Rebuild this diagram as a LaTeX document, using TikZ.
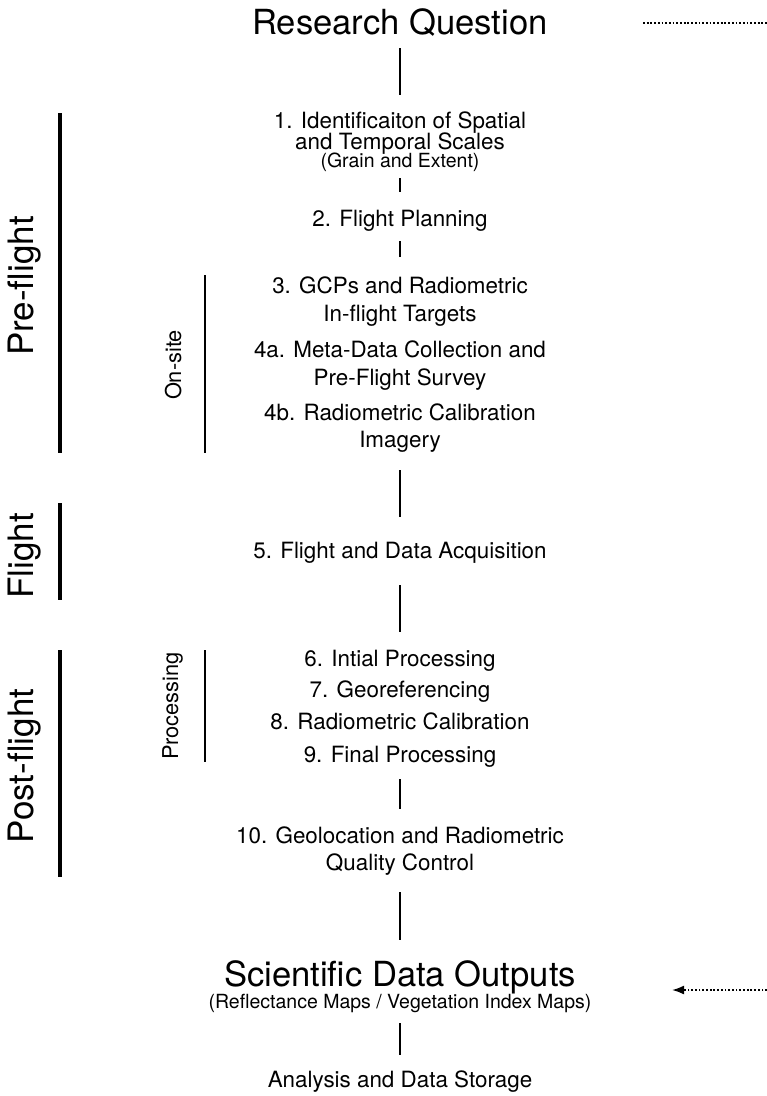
\documentclass[tikz,border=0pt]{standalone}
\usepackage{fontspec}
\setmainfont{TeX Gyre Heros}
\usetikzlibrary{arrows.meta}
\begin{document}
\begin{tikzpicture}[x=1pt,y=-1pt,
  title/.style={anchor=base,inner sep=0pt,font=\fontsize{34.6}{36}\selectfont},
  item/.style={anchor=base,inner sep=0pt,font=\fontsize{22.4}{24}\selectfont},
  note/.style={anchor=base,inner sep=0pt,font=\fontsize{19.5}{21}\selectfont},
  phase/.style={anchor=base,inner sep=0pt,rotate=90,font=\fontsize{35}{37}\selectfont},
  subphase/.style={anchor=base,inner sep=0pt,rotate=90,font=\fontsize{21.8}{24}\selectfont},
  link/.style={line width=2pt},
  phasebar/.style={line width=3.4pt},
  subbar/.style={line width=2.2pt},
  dots/.style={line width=1.8pt,dash pattern=on 1.8pt off 1.9pt}]
\useasboundingbox (0,0) rectangle (767,1096);

% main sequence
\node[title] (rq) at (400,34) {Research Question};
\node[item] (s1a) at (400,128) {1. Identificaiton of Spatial};
\node[item] (s1b) at (400,149) {and Temporal Scales};
\node[note] (s1c) at (400,167) {(Grain and Extent)};
\node[item] (s2) at (400,226) {2. Flight Planning};
\node[item] (s3a) at (400,293) {3. GCPs and Radiometric};
\node[item] (s3b) at (400,321) {In-flight Targets};
\node[item] (s4a) at (400,357) {4a. Meta-Data Collection and};
\node[item] (s4b) at (400,385) {Pre-Flight Survey};
\node[item] (s4c) at (400,420) {4b. Radiometric Calibration};
\node[item] (s4d) at (400,447) {Imagery};
\node[item] (s5) at (400,558) {5. Flight and Data Acquisition};
\node[item] (s6) at (400,666) {6. Intial Processing};
\node[item] (s7) at (400,697) {7. Georeferencing};
\node[item] (s8) at (400,729) {8. Radiometric Calibration};
\node[item] (s9) at (400,762) {9. Final Processing};
\node[item] (s10a) at (400,843) {10. Geolocation and Radiometric};
\node[item] (s10b) at (400,870) {Quality Control};
\node[title] (sdo) at (400,986) {Scientific Data Outputs};
\node[note] (sdob) at (400,1008) {(Reflectance Maps / Vegetation Index Maps)};
\node[item] (ads) at (400,1087) {Analysis and Data Storage};

% connector end points
\coordinate (l1t) at (400,48);   \coordinate (l1b) at (400,95);
\coordinate (l2t) at (400,178);  \coordinate (l2b) at (400,192);
\coordinate (l3t) at (400,241);  \coordinate (l3b) at (400,257);
\coordinate (l4t) at (400,470);  \coordinate (l4b) at (400,517);
\coordinate (l5t) at (400,585);  \coordinate (l5b) at (400,632);
\coordinate (l6t) at (400,779);  \coordinate (l6b) at (400,809);
\coordinate (l7t) at (400,892);  \coordinate (l7b) at (400,940);
\coordinate (l8t) at (400,1023); \coordinate (l8b) at (400,1055);
\foreach \i in {1,...,8} \draw[link] (l\i t) -- (l\i b);

% side feedback lines
\coordinate (fbs) at (643,23);  \coordinate (fbe) at (767,23);
\draw[dots] (fbs) -- (fbe);
\coordinate (fas) at (767,990); \coordinate (fae) at (672,990);
\draw[dots,-{Latex[length=12pt,width=9pt]}] (fas) -- (fae);

% phases
\node[phase] (pre) at (33,286) {Pre-flight};
\coordinate (preT) at (60,113); \coordinate (preB) at (60,453);
\draw[phasebar] (preT) -- (preB);
\node[phase] (fl) at (33,556) {Flight};
\coordinate (flT) at (60,503); \coordinate (flB) at (60,600);
\draw[phasebar] (flT) -- (flB);
\node[phase] (post) at (33,766) {Post-flight};
\coordinate (postT) at (60,650); \coordinate (postB) at (60,877);
\draw[phasebar] (postT) -- (postB);

% sub-phases
\node[subphase] (ons) at (181,365) {On-site};
\coordinate (onsT) at (205,275); \coordinate (onsB) at (205,453);
\draw[subbar] (onsT) -- (onsB);
\node[subphase] (proc) at (178,706) {Processing};
\coordinate (procT) at (205,650); \coordinate (procB) at (205,762);
\draw[subbar] (procT) -- (procB);
\end{tikzpicture}
\end{document}
